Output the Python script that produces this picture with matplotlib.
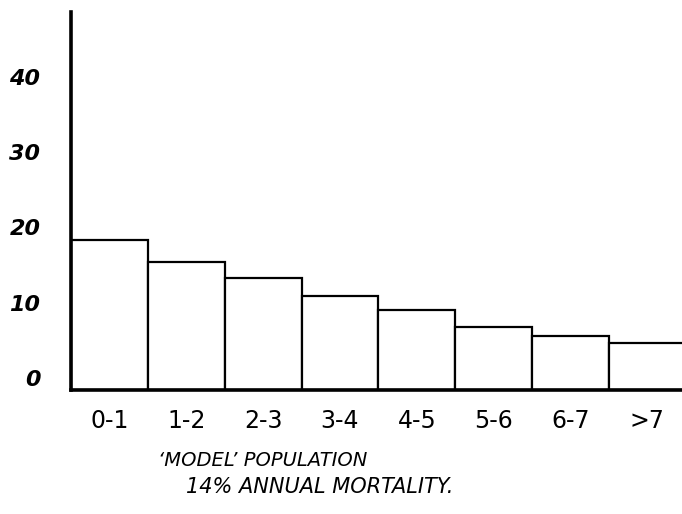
import matplotlib
matplotlib.use("Agg")
import matplotlib.pyplot as plt
from matplotlib.transforms import ScaledTranslation

age_classes = ["0-1", "1-2", "2-3", "3-4", "4-5", "5-6", "6-7", ">7"]
percent = [19.9, 17.0, 14.9, 12.5, 10.6, 8.4, 7.2, 6.2]
y_ticks = [0, 10, 20, 30, 40]
title_lines = ["\u2018MODEL\u2019 POPULATION", "14% ANNUAL MORTALITY."]

fig = plt.figure(figsize=(6.82, 5.14), dpi=100)
ax = fig.add_axes([71/682, 1-390/514, 1-71/682, (390-12)/514])

x = list(range(len(age_classes)))
ax.bar(x, percent, width=1.0, align="center", facecolor="white",
       edgecolor="black", linewidth=1.6, zorder=2)
ax.set_xlim(-0.5, 7.45)
ax.set_ylim(0, 50.2)

for s in ["top", "right"]:
    ax.spines[s].set_visible(False)
ax.spines["left"].set_linewidth(2.6)
ax.spines["bottom"].set_linewidth(2.6)

ax.set_xticks(x)
ax.set_xticklabels(age_classes, fontsize=17, family="DejaVu Sans")
ax.set_yticks(y_ticks)
ax.set_yticklabels([str(v) for v in y_ticks], fontsize=16, fontweight="bold",
                   fontstyle="italic", family="DejaVu Sans")
ax.tick_params(axis="both", length=0)
ax.tick_params(axis="x", pad=14)
ax.tick_params(axis="y", pad=22)
offset = ScaledTranslation(0, 12/100, fig.dpi_scale_trans)
for lbl in ax.get_yticklabels():
    lbl.set_transform(lbl.get_transform() + offset)

fig.text(263/682, 1-460/514, title_lines[0], ha="center", va="center",
         fontsize=14, fontstyle="italic")
fig.text(320/682, 1-487/514, title_lines[1], ha="center", va="center",
         fontsize=15, fontstyle="italic")

fig.savefig("out.png", dpi=100)
